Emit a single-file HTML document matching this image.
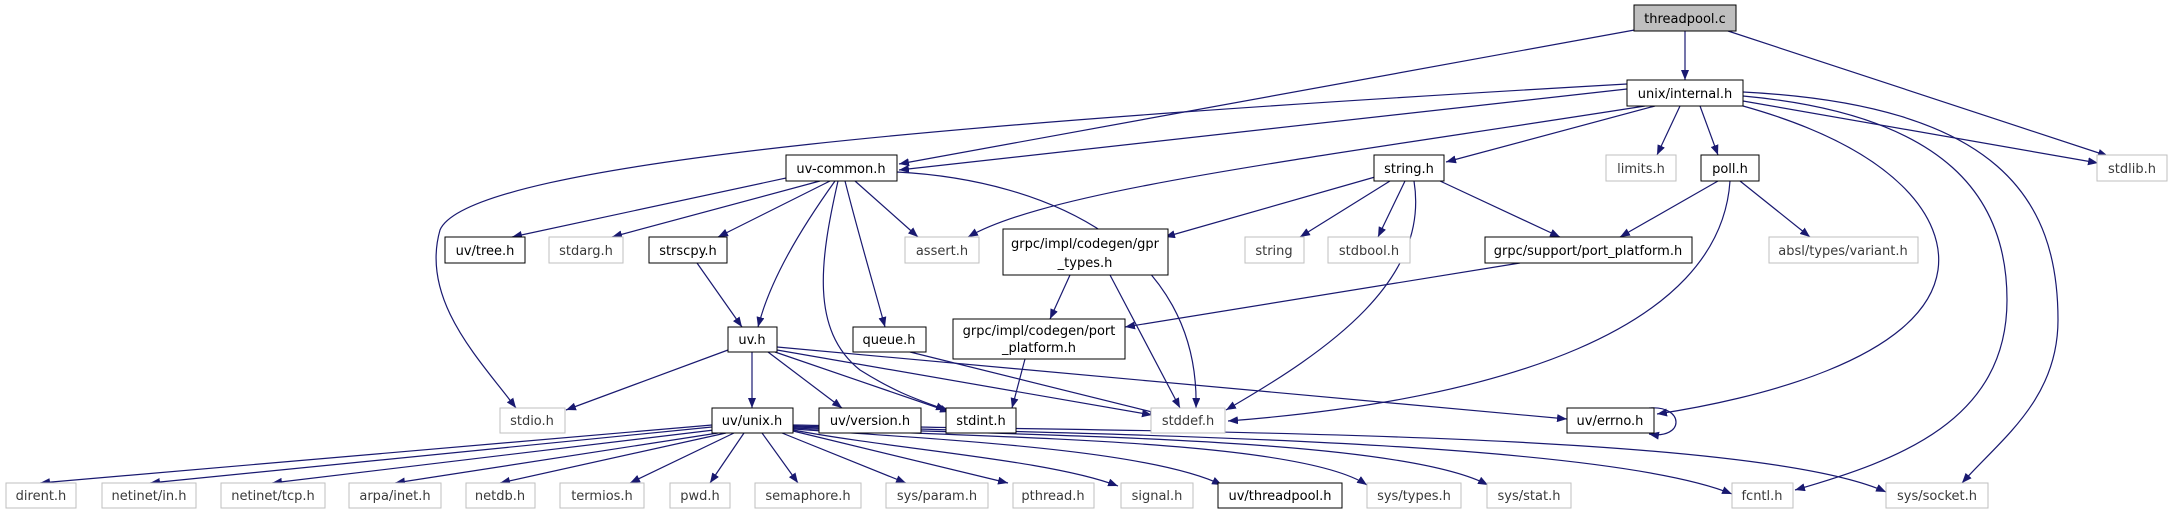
<!DOCTYPE html>
<html><head><meta charset="utf-8"><style>
html,body{margin:0;padding:0;background:#fff;}
svg{display:block}
text{font-family:"DejaVu Sans","Liberation Sans",sans-serif;font-size:13px;text-anchor:middle;fill:#000}
.g text,text.g{fill:#3a3a3a}
rect.b{fill:#fff;stroke:#000;stroke-width:1}
rect.s{fill:#fff;stroke:#bfbfbf;stroke-width:1}
path.e{fill:none;stroke:#191970;stroke-width:1.2}
</style></head><body>
<svg width="2173" height="515" viewBox="0 0 2173 515" xmlns="http://www.w3.org/2000/svg">
<defs><marker id="a" markerUnits="userSpaceOnUse" markerWidth="11" markerHeight="8" refX="10" refY="4" orient="auto"><path d="M0,0 L10,4 L0,8 z" fill="#191970"/></marker></defs>
<g marker-end="url(#a)">
<path class="e" d="M1685,31 L1685,80"/>
<path class="e" d="M1640,29 L899,164"/>
<path class="e" d="M1728,31 L2108,156"/>
<path class="e" d="M1627,89 L899,170"/>
<path class="e" d="M1627,84 C1000,120 470,160 440,230 C420,300 480,360 516,408"/>
<path class="e" d="M1645,106 C1300,160 1050,190 968,237"/>
<path class="e" d="M1655,106 L1446,162"/>
<path class="e" d="M1680,106 L1657,155"/>
<path class="e" d="M1700,106 L1718,155"/>
<path class="e" d="M1743,101 L2098,163"/>
<path class="e" d="M1743,106 C1900,150 1945,220 1938,270 C1925,360 1750,400 1657,414"/>
<path class="e" d="M1743,96 C1950,115 2007,200 2007,300 C2007,420 1900,460 1795,490"/>
<path class="e" d="M1743,92 C2000,105 2058,200 2058,320 C2058,400 2000,440 1962,483"/>
<path class="e" d="M800,175 L512,237"/>
<path class="e" d="M820,181 L612,237"/>
<path class="e" d="M830,181 L718,237"/>
<path class="e" d="M835,181 C800,230 770,280 758,327"/>
<path class="e" d="M838,181 C820,260 810,330 860,370 C900,395 920,400 946,410"/>
<path class="e" d="M845,181 C860,240 875,290 885,327"/>
<path class="e" d="M855,181 L918,237"/>
<path class="e" d="M897,172 C1050,180 1200,250 1196,408"/>
<path class="e" d="M697,263 L742,327"/>
<path class="e" d="M1070,275 L1050,319"/>
<path class="e" d="M1110,275 L1180,408"/>
<path class="e" d="M1520,263 L1125,327"/>
<path class="e" d="M1025,359 L1012,408"/>
<path class="e" d="M1375,177 L1165,237"/>
<path class="e" d="M1390,181 L1300,237"/>
<path class="e" d="M1405,181 L1378,237"/>
<path class="e" d="M1414,181 C1430,280 1330,350 1226,410"/>
<path class="e" d="M1440,181 L1560,237"/>
<path class="e" d="M1718,181 L1620,237"/>
<path class="e" d="M1740,181 L1810,237"/>
<path class="e" d="M1730,181 C1720,330 1500,400 1228,421"/>
<path class="e" d="M728,350 L566,410"/>
<path class="e" d="M752,352 L752,408"/>
<path class="e" d="M768,352 L842,408"/>
<path class="e" d="M775,352 L950,412"/>
<path class="e" d="M777,350 L1152,415"/>
<path class="e" d="M777,347 L1567,419"/>
<path class="e" d="M910,352 L1160,414"/>
<path class="e" d="M1649,408 C1685,405 1685,440 1649,434"/>
<path class="e" d="M712,425 L40,483"/>
<path class="e" d="M712,427 L150,483"/>
<path class="e" d="M714,430 L272,483"/>
<path class="e" d="M718,433 L395,483"/>
<path class="e" d="M726,433 L500,483"/>
<path class="e" d="M734,433 L630,483"/>
<path class="e" d="M744,433 L710,483"/>
<path class="e" d="M762,433 L798,483"/>
<path class="e" d="M782,433 L906,483"/>
<path class="e" d="M793,431 L1008,483"/>
<path class="e" d="M793,430 C900,450 1050,460 1118,486"/>
<path class="e" d="M793,429 C950,440 1150,450 1222,485"/>
<path class="e" d="M793,428 C1000,438 1300,440 1367,485"/>
<path class="e" d="M793,427 C1050,436 1400,438 1488,485"/>
<path class="e" d="M793,426 C1100,434 1600,440 1732,494"/>
<path class="e" d="M793,425 C1150,432 1750,430 1886,492"/>
</g>
<rect x="1634" y="5" width="102" height="26" fill="#bfbfbf" stroke="#000"/><text x="1685" y="23">threadpool.c</text>
<rect class="b" x="1627" y="80" width="116" height="26"/><text x="1685" y="98">unix/internal.h</text>
<rect class="b" x="786" y="155" width="111" height="26"/><text x="841" y="173">uv-common.h</text>
<rect class="b" x="1374" y="155" width="70" height="26"/><text x="1409" y="173">string.h</text>
<rect class="s" x="1606" y="155" width="70" height="26"/><text class="g" x="1641" y="173">limits.h</text>
<rect class="b" x="1701" y="155" width="58" height="26"/><text x="1730" y="173">poll.h</text>
<rect class="s" x="2097" y="155" width="70" height="26"/><text class="g" x="2132" y="173">stdlib.h</text>
<rect class="b" x="445" y="237" width="80" height="26"/><text x="485" y="255">uv/tree.h</text>
<rect class="s" x="549" y="237" width="74" height="26"/><text class="g" x="586" y="255">stdarg.h</text>
<rect class="b" x="649" y="237" width="78" height="26"/><text x="688" y="255">strscpy.h</text>
<rect class="s" x="905" y="237" width="74" height="26"/><text class="g" x="942" y="255">assert.h</text>
<rect class="b" x="1003" y="229" width="165" height="46"/><text x="1085" y="248">grpc/impl/codegen/gpr</text><text x="1085" y="267">_types.h</text>
<rect class="s" x="1245" y="237" width="59" height="26"/><text class="g" x="1274" y="255">string</text>
<rect class="s" x="1328" y="237" width="82" height="26"/><text class="g" x="1369" y="255">stdbool.h</text>
<rect class="b" x="1485" y="237" width="207" height="26"/><text x="1588" y="255">grpc/support/port_platform.h</text>
<rect class="s" x="1769" y="237" width="149" height="26"/><text class="g" x="1843" y="255">absl/types/variant.h</text>
<rect class="b" x="728" y="327" width="49" height="25"/><text x="752" y="344">uv.h</text>
<rect class="b" x="853" y="327" width="73" height="25"/><text x="889" y="344">queue.h</text>
<rect class="b" x="953" y="319" width="172" height="40"/><text x="1039" y="335">grpc/impl/codegen/port</text><text x="1039" y="352">_platform.h</text>
<rect class="s" x="500" y="408" width="65" height="25"/><text class="g" x="532" y="425">stdio.h</text>
<rect class="b" x="712" y="408" width="81" height="25"/><text x="752" y="425">uv/unix.h</text>
<rect class="b" x="819" y="408" width="102" height="25"/><text x="870" y="425">uv/version.h</text>
<rect class="b" x="946" y="408" width="70" height="25"/><text x="981" y="425">stdint.h</text>
<rect class="s" x="1151" y="408" width="74" height="25"/><text class="g" x="1188" y="425">stddef.h</text>
<rect class="b" x="1567" y="408" width="87" height="25"/><text x="1610" y="425">uv/errno.h</text>
<g class="g">
<rect class="s" x="6" y="483" width="70" height="25"/><text x="41" y="500">dirent.h</text>
<rect class="s" x="102" y="483" width="94" height="25"/><text x="149" y="500">netinet/in.h</text>
<rect class="s" x="221" y="483" width="104" height="25"/><text x="273" y="500">netinet/tcp.h</text>
<rect class="s" x="349" y="483" width="92" height="25"/><text x="395" y="500">arpa/inet.h</text>
<rect class="s" x="466" y="483" width="69" height="25"/><text x="500" y="500">netdb.h</text>
<rect class="s" x="560" y="483" width="84" height="25"/><text x="602" y="500">termios.h</text>
<rect class="s" x="670" y="483" width="60" height="25"/><text x="700" y="500">pwd.h</text>
<rect class="s" x="755" y="483" width="106" height="25"/><text x="808" y="500">semaphore.h</text>
<rect class="s" x="886" y="483" width="102" height="25"/><text x="937" y="500">sys/param.h</text>
<rect class="s" x="1013" y="483" width="81" height="25"/><text x="1053" y="500">pthread.h</text>
<rect class="s" x="1121" y="483" width="72" height="25"/><text x="1157" y="500">signal.h</text>
<rect class="s" x="1367" y="483" width="94" height="25"/><text x="1414" y="500">sys/types.h</text>
<rect class="s" x="1487" y="483" width="84" height="25"/><text x="1529" y="500">sys/stat.h</text>
<rect class="s" x="1732" y="483" width="61" height="25"/><text x="1762" y="500">fcntl.h</text>
<rect class="s" x="1886" y="483" width="102" height="25"/><text x="1937" y="500">sys/socket.h</text>
</g>
<rect class="b" x="1218" y="483" width="124" height="25"/><text x="1280" y="500">uv/threadpool.h</text>
</svg>
</body></html>
